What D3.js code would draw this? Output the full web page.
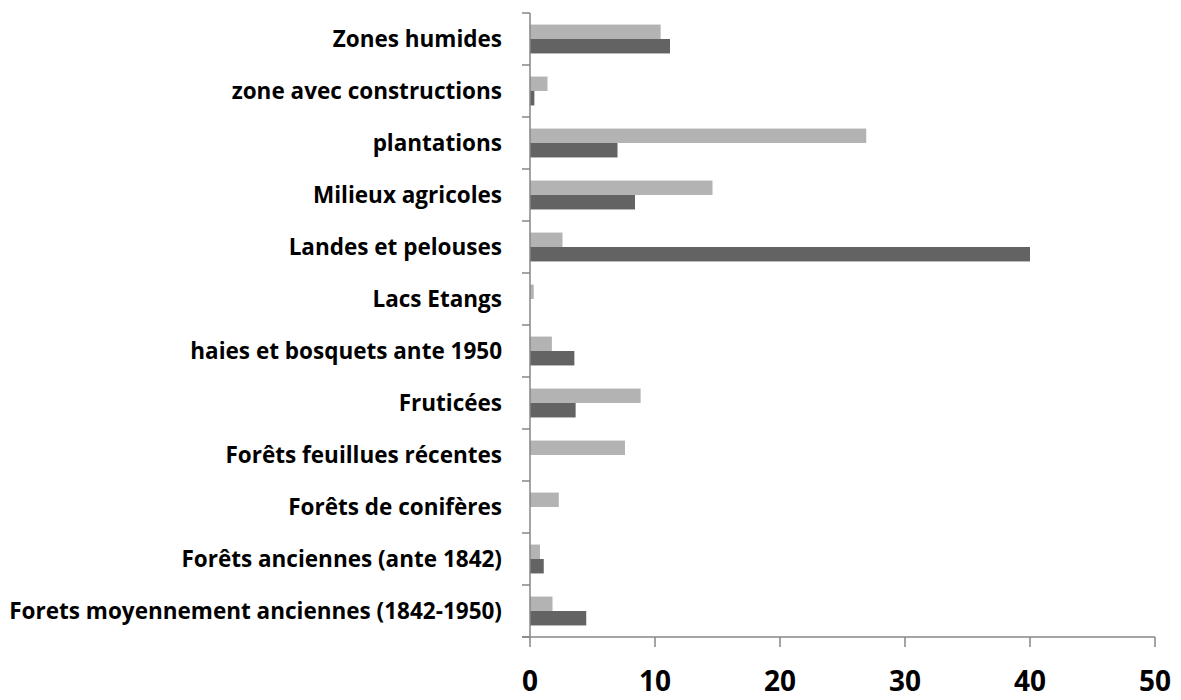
<!DOCTYPE html>
<html>
<head>
<meta charset="utf-8">
<script src="https://cdn.jsdelivr.net/npm/d3@7"></script>
<style>
  body { margin: 0; background: #fff; }
  text { font-family: "Open Sans", "DejaVu Sans", sans-serif; font-weight: bold; fill: #000; }
</style>
</head>
<body>
<div id="chart"></div>
<script>
// data, top to bottom
const categories = [
  "Zones humides",
  "zone avec constructions",
  "plantations",
  "Milieux agricoles",
  "Landes et pelouses",
  "Lacs Etangs",
  "haies et bosquets ante 1950",
  "Fruticées",
  "Forêts feuillues récentes",
  "Forêts de conifères",
  "Forêts anciennes (ante 1842)",
  "Forets moyennement anciennes (1842-1950)"
]
const seriesLight = [10.45, 1.4, 26.9, 14.6, 2.6, 0.3, 1.75, 8.85, 7.6, 2.3, 0.8, 1.8]
const seriesDark = [11.2, 0.35, 7.0, 8.4, 40.0, 0, 3.55, 3.65, 0, 0, 1.1, 4.5]
const xTicks = [0, 10, 20, 30, 40, 50]

const width = 1181, height = 700
const margin = {left: 530, right: 26, top: 13, bottom: 63}

const svg = d3.select("#chart").append("svg")
  .attr("width", width)
  .attr("height", height)

//scales
const x = d3.scaleLinear()
  .domain([0, 50])
  .range([margin.left, width - margin.right])

const y = d3.scaleBand()
  .domain(categories)
  .range([margin.top, height - margin.bottom])

const inner = d3.scaleBand()
  .domain(["light", "dark"])
  .range([0, y.bandwidth()])
  .paddingOuter(0.8)

const rows = categories.map((c, i) => ({cat: c, light: seriesLight[i], dark: seriesDark[i]}))

//bars
const colors = {light: "#b3b3b3", dark: "#636363"}
const g = svg.append("g")
rows.forEach(r => {
  ["light", "dark"].forEach(k => {
    if (r[k] <= 0) return
    g.append("rect")
      .attr("x", x(0))
      .attr("y", y(r.cat) + inner(k))
      .attr("width", x(r[k]) - x(0))
      .attr("height", inner.bandwidth())
      .attr("fill", colors[k])
  })
})

//y axis
const yAxis = svg.append("g")
  .attr("transform", `translate(${x(0)},0)`)
yAxis.append("line")
  .attr("x1", 0).attr("x2", 0)
  .attr("y1", margin.top).attr("y2", height - margin.bottom)
  .attr("stroke", "#868686").attr("stroke-width", 1.5)
yAxis.selectAll("line.tick")
  .data(d3.range(categories.length + 1))
  .join("line")
  .attr("class", "tick")
  .attr("x1", -8).attr("x2", 0)
  .attr("y1", i => margin.top + i * y.step())
  .attr("y2", i => margin.top + i * y.step())
  .attr("stroke", "#868686").attr("stroke-width", 1.5)
yAxis.selectAll("text")
  .data(categories)
  .join("text")
  .attr("x", -28)
  .attr("y", d => y(d) + y.bandwidth() / 2)
  .attr("dy", "0.36em")
  .attr("text-anchor", "end")
  .attr("font-size", 22.5)
  .text(d => d)

//x axis
const xAxis = svg.append("g")
  .attr("transform", `translate(0,${height - margin.bottom})`)
xAxis.append("line")
  .attr("x1", x(0) - 8).attr("x2", x(50))
  .attr("stroke", "#868686").attr("stroke-width", 1.5)
xAxis.selectAll("line.tick")
  .data(xTicks)
  .join("line")
  .attr("class", "tick")
  .attr("x1", d => x(d)).attr("x2", d => x(d))
  .attr("y1", 0).attr("y2", 10)
  .attr("stroke", "#868686").attr("stroke-width", 1.5)
xAxis.selectAll("text")
  .data(xTicks)
  .join("text")
  .attr("x", d => x(d))
  .attr("y", 54)
  .attr("text-anchor", "middle")
  .attr("font-size", 28)
  .text(d => d)
</script>
</body>
</html>
